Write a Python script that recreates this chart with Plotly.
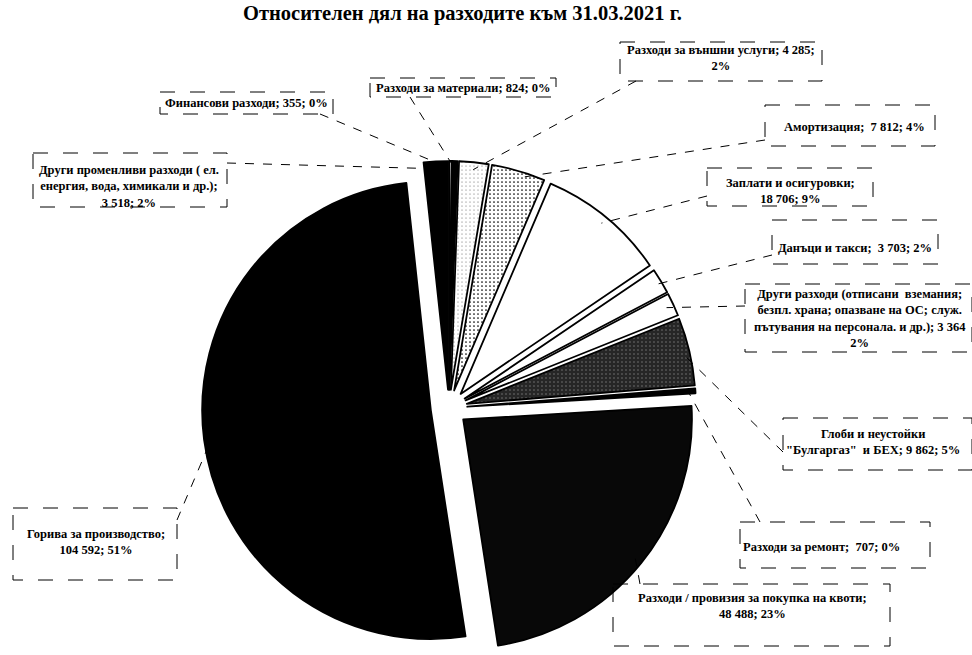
import math
import plotly.graph_objects as go

W, H = 972, 655

# ---- data ----
categories = [
    "Финансови разходи",
    "Разходи за материали",
    "Разходи за външни услуги",
    "Амортизация",
    "Заплати и осигуровки",
    "Данъци и такси",
    "Други разходи (отписани вземания; безпл. храна; опазване на ОС; служ. пътувания на персонала. и др.)",
    "Глоби и неустойки \"Булгаргаз\" и БЕХ",
    "Разходи за ремонт",
    "Разходи / провизия за покупка на квоти",
    "Горива за производство",
    "Други променливи разходи ( ел. енергия, вода, химикали и др.)",
]
values = [355, 824, 4285, 7812, 18706, 3703, 3364, 9862, 707, 48488, 104592, 3518]
percents = ["0%", "0%", "2%", "4%", "9%", "2%", "2%", "5%", "0%", "23%", "51%", "2%"]
value_labels = ["355", "824", "4 285", "7 812", "18 706", "3 703", "3 364", "9 862", "707", "48 488", "104 592", "3 518"]
label_texts = [
    "Финансови разходи; 355; 0%",
    "Разходи за материали; 824; 0%",
    "Разходи за външни услуги; 4 285;<br>2%",
    "Амортизация;  7 812; 4%",
    "Заплати и осигуровки;<br>18 706; 9%",
    "Данъци и такси;  3 703; 2%",
    "Други разходи (отписани  вземания;<br>безпл. храна; опазване на ОС; служ.<br>пътувания на персонала. и др.); 3 364<br>2%",
    "Глоби и неустойки<br>\"Булгаргаз\"  и БЕХ; 9 862; 5%",
    "Разходи за ремонт;  707; 0%",
    "Разходи / провизия за покупка на квоти;<br>48 488; 23%",
    "Горива за производство;<br>104 592; 51%",
    "Други променливи разходи ( ел.<br>енергия, вода, химикали и др.);<br>3 518; 2%",
]

# ---- style / layout ----
fills = ["white", "black", "white", "white", "white", "white", "white", "#262626", "black", "#080808", "black", "black"]
pat_shapes = ["", "", ".", ".", "", "", "", ".", "", "", "", ""]
pat_fg = ["black", "black", "#444", "black", "black", "black", "black", "#777", "black", "black", "black", "black"]
pat_sol = [0.1, 0.1, 0.05, 0.14, 0.1, 0.1, 0.1, 0.12, 0.1, 0.1, 0.1, 0.1]

PULL = 0.08
cx, R = 449, 247          # pie centre x and half-size of the domain (px)
cy = H - R
r = R / (1 + PULL)
d = r * PULL

# label text centres (px) and boxes (px)
text_pos = [(247, 103), (463, 88), (721, 58), (854, 127), (790, 191), (855, 248),
            (860, 318), (873, 442), (821, 547), (752, 606), (96, 542), (129, 186)]
boxes = [(160, 92, 333, 114), (370, 78, 556, 97), (620, 42, 822, 81), (765, 105, 935, 146),
         (707, 168, 873, 206), (772, 220, 938, 264), (745, 284, 972, 352), (783, 418, 972, 470),
         (740, 522, 930, 568), (613, 584, 890, 646), (13, 508, 177, 580), (33, 153, 227, 207)]
anchors = [(320, 114), (410, 97), (636, 81), (765, 140), (707, 196), (772, 255),
           (745, 306), (783, 452), (760, 522), (640, 584), (177, 520), (227, 163)]


def px(x):
    return x / W


def py(y):
    return 1 - y / H


fig = go.Figure(go.Pie(
    labels=categories, values=values, sort=False, direction="clockwise", rotation=0,
    pull=[PULL] * len(values), textinfo="none", hoverinfo="label+value+percent",
    marker=dict(colors=fills, line=dict(color="black", width=1.8),
                pattern=dict(shape=pat_shapes, fgcolor=pat_fg, bgcolor=fills, solidity=pat_sol, size=4)),
    domain=dict(x=[px(cx - R), px(cx + R)], y=[0, 2 * R / H]),
    showlegend=False,
))

total = sum(values)
shapes = []
cum = 0
for i, v in enumerate(values):
    mid = (cum + v / 2) / total * 2 * math.pi
    cum += v
    ex = cx + (r + d) * 0.97 * math.sin(mid)
    ey = cy - (r + d) * 0.97 * math.cos(mid)
    ax_, ay_ = anchors[i]
    shapes.append(dict(type="line", xref="paper", yref="paper", x0=px(ax_), y0=py(ay_), x1=px(ex), y1=py(ey),
                       line=dict(color="black", width=1, dash="dash")))
    x0, y0, x1, y1 = boxes[i]
    shapes.append(dict(type="rect", xref="paper", yref="paper", x0=px(x0), y0=py(y0), x1=px(x1), y1=py(y1),
                       line=dict(color="black", width=1, dash="longdash"), fillcolor="rgba(0,0,0,0)"))

annotations = []
for i, t in enumerate(label_texts):
    tx, ty = text_pos[i]
    annotations.append(dict(text="<b>" + t + "</b>", x=px(tx), y=py(ty), xref="paper", yref="paper",
                            showarrow=False, xanchor="center", yanchor="middle", align="center",
                            font=dict(family="Liberation Serif", size=12.5, color="black")))
annotations.append(dict(text="<b>Относителен дял на разходите към 31.03.2021 г.</b>", x=px(462), y=py(14),
                        xref="paper", yref="paper", showarrow=False, xanchor="center", yanchor="middle",
                        font=dict(family="Liberation Serif", size=20.5, color="black")))

fig.update_layout(width=W, height=H, margin=dict(l=0, r=0, t=0, b=0),
                  paper_bgcolor="white", plot_bgcolor="white",
                  shapes=shapes, annotations=annotations)

fig.write_html("out.html", config={"displayModeBar": False},
               post_script="document.body.style.margin='0';document.body.style.overflow='hidden';")
